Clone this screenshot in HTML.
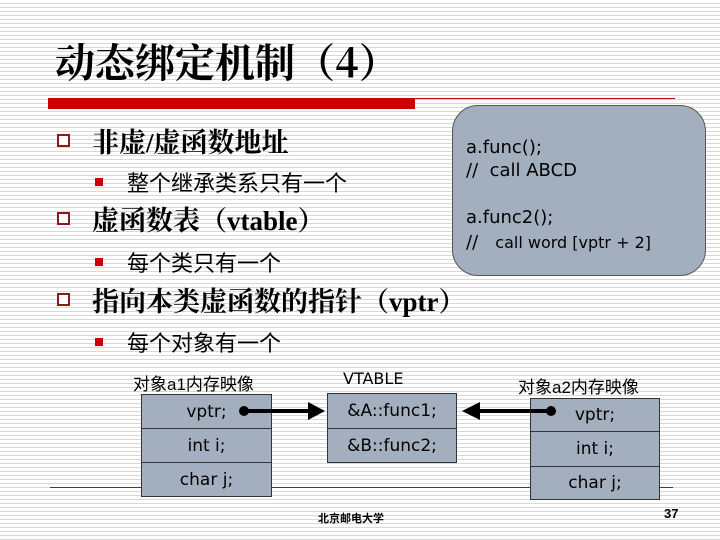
<!DOCTYPE html>
<html><head><meta charset="utf-8"><style>
body{margin:0}
#s{position:relative;width:720px;height:540px;overflow:hidden;background:#fff repeating-linear-gradient(to bottom,#fff 0,#fff 3px,#d8d8d8 3px,#d8d8d8 4px);font-family:"Liberation Serif","Noto Serif CJK SC",serif}
.a{position:absolute;white-space:nowrap}
.cb{position:absolute;width:9px;height:9px;border:2px solid #8b1a1a;background:#fff}
.rb{position:absolute;width:8px;height:8px;background:#c00}
.h{font-size:27px;font-weight:bold;color:#000}
.s{font-size:22px;color:#000;font-family:"Liberation Sans","Noto Sans CJK SC",sans-serif}
.box{position:absolute;background:#a3afbf;border:1px solid #333;box-sizing:border-box;font-family:"DejaVu Sans","Liberation Sans",sans-serif;font-size:17px;display:flex;align-items:center;justify-content:center}
.lab{font-family:"Liberation Sans","Noto Sans CJK SC",sans-serif;font-size:17px}
</style></head><body><div id="s">
<div class="a" style="left:55px;top:32px;font-size:40px;font-weight:bold;font-family:'Noto Serif CJK SC',serif">动态绑定机制（4）</div>
<div class="a" style="left:48px;top:98px;width:627px;height:1px;background:#c00"></div>
<div class="a" style="left:48px;top:99px;width:367px;height:10px;background:#c00"></div>
<div class="a" style="left:452px;top:105px;width:254px;height:171px;background:#a3afbf;border:1px solid #555;border-radius:26px;box-sizing:border-box"></div>
<div class="a" style="left:466px;top:136px;font-family:'DejaVu Sans',sans-serif;font-size:18px;line-height:23px">a.func();<br>//&nbsp; call ABCD</div>
<div class="a" style="left:466px;top:205px;font-family:'DejaVu Sans',sans-serif;font-size:18px;line-height:25px">a.func2();<br>//&nbsp;&nbsp; <span style="font-size:16px">call word [vptr + 2]</span></div>
<div class="cb" style="left:57px;top:134px"></div>
<div class="a h" style="left:92px;top:121px">非虚/虚函数地址</div>
<div class="rb" style="left:95px;top:178px"></div>
<div class="a s" style="left:127px;top:166px">整个继承类系只有一个</div>
<div class="cb" style="left:57px;top:212px"></div>
<div class="a h" style="left:92px;top:199px">虚函数表（vtable）</div>
<div class="rb" style="left:95px;top:258px"></div>
<div class="a s" style="left:127px;top:246px">每个类只有一个</div>
<div class="cb" style="left:57px;top:293px"></div>
<div class="a h" style="left:92px;top:280px">指向本类虚函数的指针（vptr）</div>
<div class="rb" style="left:95px;top:338px"></div>
<div class="a s" style="left:127px;top:326px">每个对象有一个</div>
<div class="a" style="left:50px;top:487px;width:623px;height:1px;background:#c00"></div>
<div class="a lab" style="left:133px;top:370px">对象a1内存映像</div>
<div class="a lab" style="left:343px;top:369px;font-family:'DejaVu Sans',sans-serif;font-size:16px">VTABLE</div>
<div class="a lab" style="left:518px;top:373px">对象a2内存映像</div>
<div class="box" style="left:141px;top:394px;width:131px;height:35px">vptr;</div>
<div class="box" style="left:141px;top:428px;width:131px;height:35px">int i;</div>
<div class="box" style="left:141px;top:462px;width:131px;height:35px">char j;</div>
<div class="box" style="left:327px;top:393px;width:130px;height:36px">&amp;A::func1;</div>
<div class="box" style="left:327px;top:428px;width:130px;height:35px">&amp;B::func2;</div>
<div class="box" style="left:530px;top:398px;width:130px;height:34px">vptr;</div>
<div class="box" style="left:530px;top:431px;width:130px;height:36px">int i;</div>
<div class="box" style="left:530px;top:466px;width:130px;height:34px">char j;</div>
<svg class="a" style="left:0;top:0" width="720" height="540">
<line x1="244" y1="411" x2="310" y2="411" stroke="#000" stroke-width="4"/>
<circle cx="244" cy="411" r="5"/><polygon points="308,402 325,411 308,420"/>
<line x1="551" y1="411" x2="478" y2="411" stroke="#000" stroke-width="4"/>
<circle cx="551" cy="411" r="5"/><polygon points="480,402 462,411 480,420"/>
</svg>
<div class="a" style="left:318px;top:510px;font-size:11px;font-weight:bold;font-family:'Noto Sans CJK SC',sans-serif">北京邮电大学</div>
<div class="a" style="left:664px;top:506px;font-size:13px;font-weight:bold;font-family:'Liberation Sans',sans-serif">37</div>
</div></body></html>
